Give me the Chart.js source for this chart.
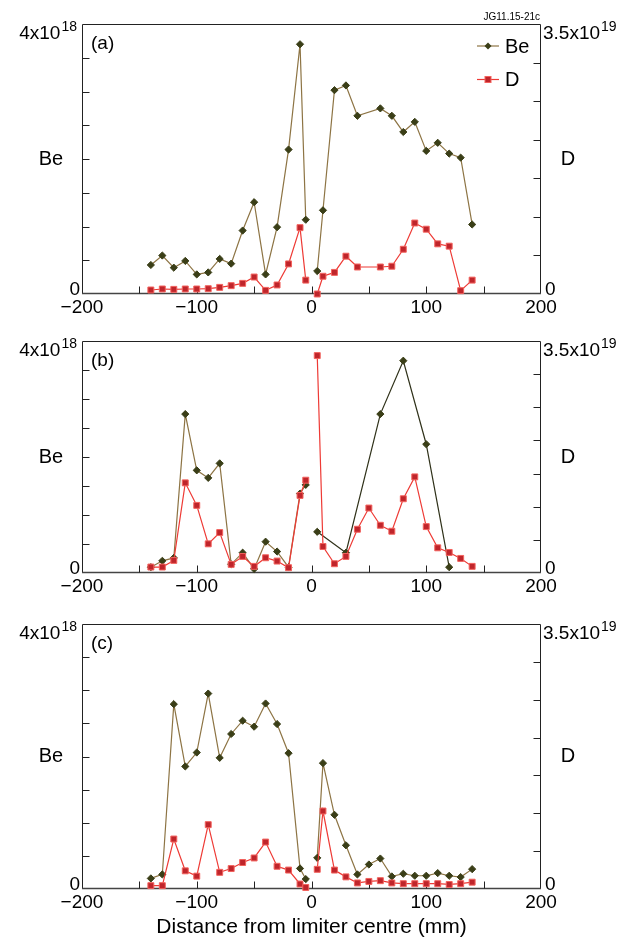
<!DOCTYPE html>
<html>
<head>
<meta charset="utf-8">
<script src="https://cdn.jsdelivr.net/npm/chart.js@4.4.1/dist/chart.umd.min.js"></script>
<style>
  html, body { margin: 0; padding: 0; background: #fff; }
  #page { position: relative; width: 633px; height: 937px; overflow: hidden; }
  .panel { position: absolute; left: 0; width: 633px; }
  canvas { display: block; }
</style>
</head>
<body>
<div id="page">
  <div class="panel" style="top:0"><canvas id="chartA" width="633" height="320"></canvas></div>
  <div class="panel" style="top:320px"><canvas id="chartB" width="633" height="280"></canvas></div>
  <div class="panel" style="top:600px"><canvas id="chartC" width="633" height="340"></canvas></div>
</div>
<script>
// Be values in units of 1e18, D values in units of 1e19, x in mm from limiter centre

// (a)
const xA = [-140, -130, -120, -110, -100, -90, -80, -70, -60, -50, -40, -30, -20, -10, -5,
            5, 10, 20, 30, 40, 60, 70, 80, 90, 100, 110, 120, 130, 140];
const beA = [0.43, 0.57, 0.39, 0.49, 0.29, 0.32, 0.52, 0.45, 0.94, 1.36, 0.29, 0.99, 2.14, 3.70, 1.10,
             0.34, 1.24, 3.02, 3.09, 2.64, 2.75, 2.64, 2.40, 2.55, 2.12, 2.24, 2.08, 2.02, 1.03];
const dA = [0.052, 0.065, 0.060, 0.065, 0.065, 0.069, 0.086, 0.108, 0.138, 0.22, 0.047, 0.117, 0.39, 0.86, 0.18,
            0.0, 0.23, 0.28, 0.49, 0.35, 0.35, 0.36, 0.58, 0.92, 0.84, 0.65, 0.62, 0.043, 0.18];

// (b)
const xBeB = [-140, -130, -120, -110, -100, -90, -80, -70, -60, -50, -40, -30, -20, -10, -5,
              5, 30, 60, 80, 100, 120];
const beB = [0.10, 0.21, 0.26, 2.74, 1.77, 1.64, 1.89, 0.15, 0.35, 0.07, 0.54, 0.37, 0.10, 1.37, 1.52,
             0.71, 0.35, 2.74, 3.66, 2.22, 0.10];
const xDB = [-140, -130, -120, -110, -100, -90, -80, -70, -60, -50, -40, -30, -20, -10, -5,
             5, 10, 20, 30, 40, 50, 60, 70, 80, 90, 100, 110, 120, 130, 140];
const dB = [0.09, 0.09, 0.19, 1.36, 1.02, 0.44, 0.61, 0.13, 0.25, 0.10, 0.23, 0.18, 0.08, 1.17, 1.40,
            3.28, 0.40, 0.14, 0.25, 0.66, 0.98, 0.72, 0.63, 1.12, 1.45, 0.70, 0.38, 0.31, 0.22, 0.10];

// (c)
const xC = [-140, -130, -120, -110, -100, -90, -80, -70, -60, -50, -40, -30, -20, -10, -5,
            5, 10, 20, 30, 40, 50, 60, 70, 80, 90, 100, 110, 120, 130, 140];
const beC = [0.16, 0.22, 2.79, 1.85, 2.06, 2.95, 1.98, 2.34, 2.54, 2.45, 2.80, 2.49, 2.05, 0.31, 0.15,
             0.47, 1.90, 1.12, 0.66, 0.22, 0.37, 0.46, 0.19, 0.23, 0.20, 0.20, 0.24, 0.20, 0.18, 0.30];
const dC = [0.044, 0.044, 0.66, 0.24, 0.17, 0.85, 0.22, 0.27, 0.35, 0.41, 0.62, 0.30, 0.25, 0.066, 0.02,
            0.26, 1.03, 0.25, 0.16, 0.08, 0.10, 0.11, 0.08, 0.07, 0.07, 0.07, 0.07, 0.06, 0.07, 0.09];

const xTicks = [-200, -100, 0, 100, 200];
const seriesNames = ["Be", "D"];
const xTitle = "Distance from limiter centre (mm)";
const figId = "JG11.15-21c";

const FONT = "'Liberation Sans', Arial, Helvetica, sans-serif";
const BE_LINE = "#8d7444";
const BE_LINE_DARK = "#2f3119";
const BE_PT = "#3a3e17";
const D_LINE = "#ee3a35";
const D_PT = "#bf252b";
const D_PT_EDGE = "#f3625d";
const CLEAR = "rgba(0,0,0,0)";

const pts = (xs, ys) => xs.map((x, i) => ({ x, y: ys[i] }));
const fmtX = v => (v < 0 ? "\u2212" + Math.abs(v) : String(v));
const crossesCentre = c => c.p0.parsed.x < 0 && c.p1.parsed.x > 0;

function drawSci(ctx, x, base, main, sup, align) {
  ctx.font = `19px ${FONT}`;
  const mw = ctx.measureText(main).width;
  ctx.font = `14px ${FONT}`;
  const sw = ctx.measureText(sup).width + 1;
  const x0 = align === "right" ? x - mw - sw : x;
  ctx.textAlign = "left";
  ctx.textBaseline = "alphabetic";
  ctx.font = `19px ${FONT}`;
  ctx.fillText(main, x0, base);
  ctx.font = `14px ${FONT}`;
  ctx.fillText(sup, x0 + mw + 1, base - 8);
}

// frame, inward ticks and the panel texts
const panelDeco = {
  id: "panelDeco",
  beforeDatasetsDraw(chart, args, opts) {
    const { ctx, chartArea: a, scales } = chart;
    const L = Math.round(a.left) + 0.5, R = Math.round(a.right) - 0.5;
    const T = Math.round(a.top) + 0.5, B = Math.round(a.bottom) - 0.5;
    ctx.save();
    ctx.strokeStyle = "#222";
    ctx.lineWidth = 1;
    ctx.beginPath();
    ctx.moveTo(L, B); ctx.lineTo(L, T); ctx.lineTo(R, T); ctx.lineTo(R, B);
    ctx.stroke();
    ctx.strokeStyle = "#444";
    ctx.lineWidth = 1.6;
    ctx.beginPath(); ctx.moveTo(L - 0.5, B); ctx.lineTo(R + 0.5, B); ctx.stroke();

    ctx.lineWidth = 1;
    ctx.strokeStyle = "#222";
    ctx.beginPath();
    scales.x.ticks.forEach(t => {
      if (t.value <= scales.x.min || t.value >= scales.x.max) return;
      const px = Math.round(scales.x.getPixelForValue(t.value)) + 0.5;
      ctx.moveTo(px, B); ctx.lineTo(px, B - 7);
    });
    scales.yBe.ticks.forEach(t => {
      if (t.value <= scales.yBe.min || t.value >= scales.yBe.max) return;
      const py = Math.round(scales.yBe.getPixelForValue(t.value)) + 0.5;
      ctx.moveTo(L, py); ctx.lineTo(L + 7, py);
    });
    scales.yD.ticks.forEach(t => {
      if (t.value <= scales.yD.min || t.value >= scales.yD.max) return;
      const py = Math.round(scales.yD.getPixelForValue(t.value)) + 0.5;
      ctx.moveTo(R, py); ctx.lineTo(R - 7, py);
    });
    ctx.stroke();
    ctx.restore();
  },
  afterDraw(chart, args, opts) {
    const { ctx, chartArea: a } = chart;
    const mid = (a.top + a.bottom) / 2;
    ctx.save();
    ctx.fillStyle = "#000";

    // panel letter
    ctx.font = `19px ${FONT}`;
    ctx.textAlign = "left";
    ctx.textBaseline = "alphabetic";
    ctx.fillText(opts.letter, a.left + 9, a.top + 25);

    // axis end labels
    drawSci(ctx, a.left - 5, a.top + 14.5, "4x10", "18", "right");
    drawSci(ctx, a.right + 2, a.top + 15, "3.5x10", "19", "left");
    ctx.font = `19px ${FONT}`;
    ctx.textBaseline = "alphabetic";
    ctx.textAlign = "right";
    ctx.fillText("0", a.left - 2, a.bottom + 1);
    ctx.textAlign = "left";
    ctx.fillText("0", a.right + 4, a.bottom + 1);

    // axis names
    ctx.font = `20px ${FONT}`;
    ctx.textAlign = "center";
    ctx.textBaseline = "middle";
    ctx.fillText(seriesNames[0], 51, mid);
    ctx.fillText(seriesNames[1], 568, mid);

    if (opts.legend) {
      ctx.font = `10px ${FONT}`;
      ctx.textAlign = "right";
      ctx.textBaseline = "alphabetic";
      ctx.fillText(figId, a.right - 1, a.top - 4);

      const rows = [
        { name: seriesNames[0], line: BE_LINE, y: a.top + 22 },
        { name: seriesNames[1], line: D_LINE, y: a.top + 55.5 },
      ];
      rows.forEach((r, i) => {
        const x0 = a.right - 64, x1 = a.right - 42, cx = (x0 + x1) / 2;
        ctx.strokeStyle = r.line;
        ctx.lineWidth = 1.2;
        ctx.beginPath(); ctx.moveTo(x0, r.y); ctx.lineTo(x1, r.y); ctx.stroke();
        if (i === 0) {
          ctx.fillStyle = BE_PT;
          ctx.beginPath();
          ctx.moveTo(cx, r.y - 3.5); ctx.lineTo(cx + 3.5, r.y);
          ctx.lineTo(cx, r.y + 3.5); ctx.lineTo(cx - 3.5, r.y);
          ctx.closePath(); ctx.fill();
        } else {
          ctx.fillStyle = D_PT;
          ctx.strokeStyle = D_PT_EDGE;
          ctx.lineWidth = 1;
          ctx.fillRect(cx - 3, r.y - 3, 6, 6);
          ctx.strokeRect(cx - 3, r.y - 3, 6, 6);
        }
        ctx.fillStyle = "#000";
        ctx.font = `20px ${FONT}`;
        ctx.textAlign = "left";
        ctx.textBaseline = "middle";
        ctx.fillText(r.name, a.right - 36, r.y + 1);
      });
    }
    ctx.restore();
  }
};

function makePanel(id, cfg) {
  return new Chart(document.getElementById(id), {
    type: "line",
    data: {
      datasets: [
        {
          label: seriesNames[1],
          data: pts(cfg.dX, cfg.d),
          yAxisID: "yD",
          order: 0,
          clip: false,
          borderColor: D_LINE,
          borderWidth: 1.2,
          pointStyle: "rect",
          pointRadius: 4.2,
          pointBackgroundColor: D_PT,
          pointBorderColor: D_PT_EDGE,
          pointBorderWidth: 1,
          tension: 0,
          segment: { borderColor: c => (crossesCentre(c) ? CLEAR : D_LINE) },
        },
        {
          label: seriesNames[0],
          data: pts(cfg.beX, cfg.be),
          yAxisID: "yBe",
          order: 1,
          clip: false,
          borderColor: BE_LINE,
          borderWidth: 1.2,
          pointStyle: "rectRot",
          pointRadius: 3.6,
          pointBackgroundColor: BE_PT,
          pointBorderColor: BE_PT,
          pointBorderWidth: 1,
          tension: 0,
          segment: {
            borderColor: c => {
              if (crossesCentre(c)) return CLEAR;
              return cfg.darkRight && c.p0.parsed.x > 0 ? BE_LINE_DARK : BE_LINE;
            },
          },
        },
      ],
    },
    options: {
      responsive: false,
      animation: false,
      events: [],
      layout: { padding: { top: cfg.top, left: 0, right: 0, bottom: 0 } },
      plugins: {
        legend: { display: false },
        tooltip: { enabled: false },
        panelDeco: { letter: cfg.letter, legend: !!cfg.legend },
      },
      scales: {
        x: {
          type: "linear",
          min: -200,
          max: 200,
          grid: { display: false, drawTicks: false },
          border: { display: false },
          ticks: {
            stepSize: 50,
            autoSkip: false,
            maxRotation: 0,
            padding: 2,
            color: "#000",
            font: { family: FONT, size: 19 },
            callback: v => (xTicks.includes(v) ? fmtX(v) : ""),
          },
          title: {
            display: !!cfg.title,
            text: xTitle,
            color: "#000",
            font: { family: FONT, size: 21 },
            padding: 0,
          },
          afterFit: s => { s.height = cfg.axisH; },
        },
        yBe: {
          position: "left",
          min: 0,
          max: 4,
          grid: { display: false },
          border: { display: false },
          ticks: { display: false, stepSize: 0.5 },
          afterFit: s => { s.width = 82; },
        },
        yD: {
          position: "right",
          min: 0,
          max: 3.5,
          grid: { display: false },
          border: { display: false },
          ticks: { display: false, stepSize: 0.5 },
          afterFit: s => { s.width = 92; },
        },
      },
    },
    plugins: [panelDeco],
  });
}

makePanel("chartA", { letter: "(a)", legend: true, top: 24, axisH: 26, beX: xA, be: beA, dX: xA, d: dA });
makePanel("chartB", { letter: "(b)", top: 21, axisH: 27, darkRight: true, beX: xBeB, be: beB, dX: xDB, d: dB });
makePanel("chartC", { letter: "(c)", title: true, top: 24, axisH: 51, beX: xC, be: beC, dX: xC, d: dC });
</script>
</body>
</html>
